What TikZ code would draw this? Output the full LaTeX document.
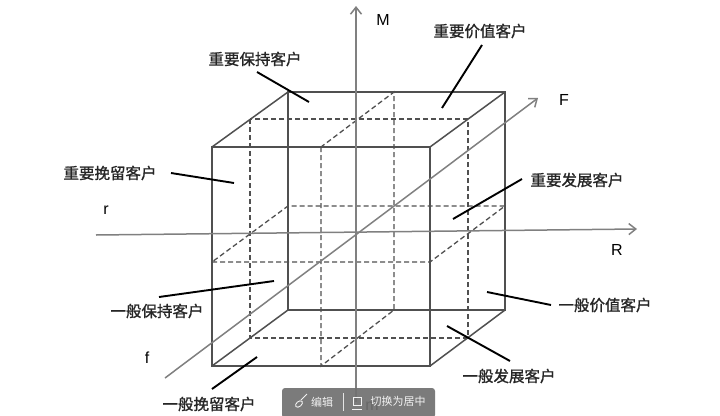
\documentclass[tikz,border=0pt]{standalone}
\usepackage{fontspec}
\setsansfont{Liberation Sans}
\newfontfamily\cjk[AutoFakeBold=1.2]{Noto Sans CJK SC}
\usetikzlibrary{arrows.meta}
\definecolor{edgegray}{RGB}{80,80,80}
\definecolor{axisgray}{RGB}{128,128,128}
\definecolor{bargray}{RGB}{112,112,112}

\begin{document}
\begin{tikzpicture}[x=1pt,y=-1pt,
    edge/.style={draw=edgegray,line width=1.5pt},
    mid/.style={draw=edgegray,line width=1.3pt,dash pattern=on 5pt off 3pt},
    axis/.style={draw=axisgray,line width=1.5pt,-{Straight Barb[length=7pt,width=11pt]}},
    lbl/.style={font=\cjk\bfseries\fontsize{15.5}{18}\selectfont,text=black!85,inner sep=0pt},
    ax/.style={font=\sffamily\fontsize{16}{18}\selectfont,inner sep=0pt},
    lead/.style={draw=black,line width=1.9pt}
  ]
    \fill[white] (0,0) rectangle (720,415);
    \useasboundingbox (0,0) rectangle (720,415);
    % cube corners
    \coordinate (fa) at (212,147); \coordinate (fb) at (430,147);
    \coordinate (fc) at (430,366); \coordinate (fd) at (212,366);
    \coordinate (ba) at (288,92);  \coordinate (bb) at (505,92);
    \coordinate (bc) at (505,310); \coordinate (bd) at (288,310);
    % dashed middle planes
    \draw[mid] (321,147) -- (321,366) -- (394,310) -- (394,92) -- cycle;
    \draw[mid] (212,262) -- (430,262) -- (505,206) -- (288,206) -- cycle;
    \draw[mid] (250,119) rectangle (468,338);
    % solid edges
    \draw[edge] (fa) -- (fb) -- (fc) -- (fd) -- cycle;
    \draw[edge] (ba) -- (bb) -- (bc) -- (bd) -- cycle;
    \draw[edge] (fa) -- (ba) (fb) -- (bb) (fc) -- (bc) (fd) -- (bd);
    % axes
    \coordinate (m0) at (356,402); \coordinate (m1) at (356,6);
    \coordinate (r0) at (96,235);  \coordinate (r1) at (637,229);
    \coordinate (f0) at (165,378); \coordinate (f1) at (538,98);
    \draw[axis] (m0) -- (m1);
    \draw[axis] (r0) -- (r1);
    \draw[axis] (f0) -- (f1);
    \node[ax] (M) at (383,20) {M};
    \node[ax] (F) at (564,100) {F};
    \node[ax] (R) at (617,250) {R};
    \node[ax] (r) at (106,210) {r};
    \node[ax] (f) at (147,358) {f};
    \node[ax] (m) at (372,406) {m};
    % labels
    \node[lbl] (impkeep) at (255,59) {重要保持客户};
    \node[lbl] (impvalue) at (480,31) {重要价值客户};
    \node[lbl] (impretain) at (110,173) {重要挽留客户};
    \node[lbl] (impdev) at (577,180) {重要发展客户};
    \node[lbl] (genvalue) at (605,305) {一般价值客户};
    \node[lbl] (genkeep) at (157,311) {一般保持客户};
    \node[lbl] (genretain) at (209,404) {一般挽留客户};
    \node[lbl] (gendev) at (509,376) {一般发展客户};
    % leader lines
    \coordinate (k1) at (257,72);  \coordinate (k2) at (309,102);
    \coordinate (v1) at (482,45);  \coordinate (v2) at (442,108);
    \coordinate (t1) at (171,173); \coordinate (t2) at (234,183);
    \coordinate (d1) at (522,179); \coordinate (d2) at (453,219);
    \coordinate (gv1) at (551,305); \coordinate (gv2) at (487,292);
    \coordinate (gk1) at (159,297); \coordinate (gk2) at (274,281);
    \coordinate (gt1) at (212,389); \coordinate (gt2) at (257,357);
    \coordinate (gd1) at (510,361); \coordinate (gd2) at (447,326);
    \draw[lead] (k1) -- (k2);
    \draw[lead] (v1) -- (v2);
    \draw[lead] (t1) -- (t2);
    \draw[lead] (d1) -- (d2);
    \draw[lead] (gv1) -- (gv2);
    \draw[lead] (gk1) -- (gk2);
    \draw[lead] (gt1) -- (gt2);
    \draw[lead] (gd1) -- (gd2);
    % toolbar
    \fill[bargray,opacity=0.92,rounded corners=3pt] (282,388) rectangle (435,418);
    \node[font=\cjk\fontsize{11}{12}\selectfont,text=white!90!gray,inner sep=0pt] (edit) at (322,402) {编辑};
    \node[font=\cjk\fontsize{11}{12}\selectfont,text=white!90!gray,inner sep=0pt] (center) at (398,401) {切换为居中};
    \draw[white!80!gray,line width=0.8pt] (343,393) -- (343,411);
    \draw[white!90!gray,line width=0.9pt,rotate around={-50:(299,404)}] (299,404) ellipse (2.5pt and 4pt);
    \draw[white!90!gray,line width=0.9pt] (301,400) -- (307,394);
    \draw[white!90!gray,line width=0.9pt] (353,397) rectangle (361,405) (352,409) -- (362,409);
  \end{tikzpicture}
\end{document}
